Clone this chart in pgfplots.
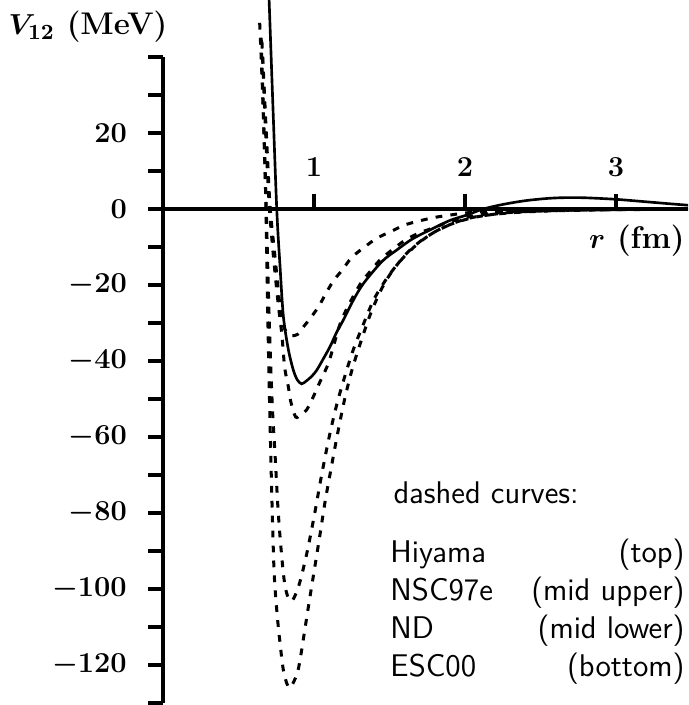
\documentclass[border=0pt]{standalone}
\usepackage{pgfplots}
\pgfplotsset{compat=1.18}
\begin{document}
\begin{tikzpicture}
\begin{axis}[
  x=62.665pt, y=1.577pt,
  xmin=0, xmax=3.477, ymin=-130, ymax=40,
  axis x line=middle, axis y line=left,
  axis line style={line width=1.35pt, -},
  every tick/.style={line width=1.35pt, black},
  clip=false,
  xtick={1,2,3},
  ytick={-120,-100,...,20},
  minor ytick={-130,-110,...,30,40},
  major tick length=6.2pt, minor tick length=6.2pt,
  xtick align=inside,
  ytick align=outside,
  tick label style={font=\fontsize{13}{15}\selectfont\boldmath},
  xticklabel style={anchor=base, yshift=13.7pt},
  yticklabel style={xshift=-5.3pt},
  every axis plot/.append style={smooth, tension=0.5},
]
% solid curve
\addplot[black, line width=1.1pt] coordinates {
(0.698,60) (0.725,30) (0.753,0) (0.775,-15.2) (0.797,-28.3) (0.83,-37) (0.863,-42.4)
(0.89,-45) (0.918,-46) (0.95,-45.2) (0.985,-44) (1.018,-42.4) (1.06,-39.5) (1.106,-36.2)
(1.15,-32.4) (1.194,-29.2) (1.26,-24) (1.327,-19.6) (1.45,-13.8) (1.547,-10.8) (1.65,-7.9)
(1.768,-5.5) (1.9,-3.0) (2.01,-1.6) (2.12,0) (2.25,1.2) (2.4,2.2) (2.55,2.8) (2.67,3.0)
(2.8,2.95) (3.0,2.55) (3.2,1.9) (3.35,1.4) (3.477,1.0)
};
% Hiyama (top)
\addplot[black, line width=1.25pt, dash pattern=on 2.8pt off 3.4pt] coordinates {
(0.66,40) (0.69,15) (0.71,0) (0.74,-12) (0.765,-22) (0.786,-29) (0.815,-32.3) (0.85,-33.3)
(0.89,-33) (0.93,-31) (0.974,-28.8) (1.03,-25.7) (1.073,-22.6) (1.128,-18.9) (1.19,-15.9)
(1.25,-12.7) (1.338,-9.9) (1.415,-7.7) (1.515,-5.8) (1.6,-4.2) (1.7,-3.1) (1.8,-2.2)
(1.9,-1.6) (2.01,-1.0) (2.2,-0.6) (2.5,-0.3) (3.0,-0.1) (3.477,0)
};
% NSC97e (mid upper)
\addplot[black, line width=1.25pt, dash pattern=on 2.8pt off 3.4pt] coordinates {
(0.655,44) (0.685,15) (0.705,0) (0.73,-12) (0.76,-24) (0.786,-32.7) (0.797,-38)
(0.808,-42.4) (0.83,-46.8) (0.846,-50.7) (0.878,-54.7) (0.91,-54.2) (0.95,-52.9)
(0.995,-49.4) (1.04,-45.4) (1.095,-40.6) (1.14,-34.5) (1.17,-30.5) (1.217,-26.2)
(1.305,-19.8) (1.37,-16.5) (1.437,-13.4) (1.515,-10.8) (1.603,-8.2) (1.69,-6.4)
(1.78,-5.1) (1.88,-3.6) (1.98,-2.5) (2.1,-1.5) (2.3,-0.8) (2.6,-0.4) (3.0,-0.15) (3.477,0)
};
% ND (mid lower)
\addplot[black, line width=1.25pt, dash pattern=on 2.8pt off 3.4pt] coordinates {
(0.65,45) (0.665,25) (0.68,5) (0.69,-10) (0.70,-25) (0.712,-40) (0.725,-53) (0.742,-64.7)
(0.76,-78) (0.777,-87.3) (0.797,-95.9) (0.812,-100) (0.835,-102.8) (0.86,-102.8)
(0.9,-99) (0.95,-91) (1.0,-81) (1.05,-70) (1.1,-60) (1.15,-51.5) (1.2,-44.5) (1.26,-37)
(1.33,-30) (1.4,-23.5) (1.5,-17.2) (1.6,-12.4) (1.7,-8.7) (1.8,-6.0) (1.9,-4.1) (2.0,-2.8)
(2.1,-1.9) (2.3,-0.9) (2.6,-0.4) (3.0,-0.15) (3.477,0)
};
% ESC00 (bottom)
\addplot[black, line width=1.25pt, dash pattern=on 2.8pt off 3.4pt] coordinates {
(0.640,49) (0.655,35) (0.668,20) (0.680,3) (0.688,-15) (0.697,-35) (0.705,-50) (0.712,-62)
(0.72,-75) (0.735,-95) (0.753,-105.5) (0.775,-114.3) (0.80,-122) (0.837,-126)
(0.885,-122.6) (0.907,-118.7) (0.94,-110.4) (0.974,-101.8) (1.007,-93.7) (1.04,-85.5)
(1.073,-77) (1.11,-68.9) (1.15,-60.3) (1.2,-50.5) (1.25,-42.5) (1.305,-35.5) (1.37,-28)
(1.437,-21.8) (1.503,-17.2) (1.603,-12.1) (1.70,-8.6) (1.81,-5.8) (1.945,-3.4) (2.077,-2.0)
(2.3,-1.0) (2.6,-0.45) (3.0,-0.2) (3.477,0)
};
\node[anchor=base, inner sep=0pt, font=\fontsize{13}{15}\selectfont\bfseries] at (axis cs:-0.497,45.8) {{\boldmath$V_{12}$} (MeV)};
\node[anchor=base east, inner sep=0pt, font=\fontsize{13}{15}\selectfont\bfseries] at (axis cs:3.457,-10.3) {{\boldmath$r$} (fm)};
\begin{scope}[every node/.style={inner sep=0pt, font=\fontsize{13}{15}\selectfont\sffamily}]
\node[anchor=base west] at (axis cs:1.523,-77.5) {dashed curves:};
\node[anchor=base west] at (axis cs:1.503,-92.9) {Hiyama};
\node[anchor=base east] at (axis cs:3.457,-92.9) {(top)};
\node[anchor=base west] at (axis cs:1.503,-102.9) {NSC97e};
\node[anchor=base east] at (axis cs:3.457,-102.9) {(mid upper)};
\node[anchor=base west] at (axis cs:1.503,-112.9) {ND};
\node[anchor=base east] at (axis cs:3.457,-112.9) {(mid lower)};
\node[anchor=base west] at (axis cs:1.503,-122.9) {ESC00};
\node[anchor=base east] at (axis cs:3.457,-122.9) {(bottom)};
\end{scope}
\coordinate (bl) at (axis cs:-1.0795,-130.5);
\coordinate (tr) at (axis cs:3.477,55.0);
\end{axis}
\pgfresetboundingbox
\useasboundingbox (bl) rectangle (tr);
\end{tikzpicture}
\end{document}
